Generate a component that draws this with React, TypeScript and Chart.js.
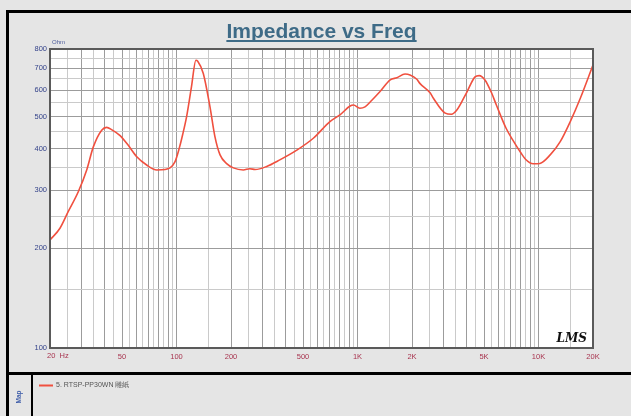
import React, { useEffect, useRef } from 'react';
import { Chart, registerables } from 'chart.js';

Chart.register(...registerables);

// ---- data ----
const freqHz = [
  20, 22.7, 25.2, 28.7, 31.9, 34.7, 38.6, 41.1, 44, 48.8, 54, 60.3, 68.4, 77.8, 86.5, 98,
  104, 108, 113.7, 121, 128, 131, 140.6, 153, 163, 174, 190, 206, 234, 254, 272, 313, 372,
  462, 570, 704, 800, 910, 950, 1030, 1100, 1200, 1332, 1516, 1650, 1830, 1950, 2126, 2210,
  2524, 2626, 3052, 3300, 3538, 4014, 4460, 4700, 5060, 5500, 5850, 6620, 7200, 8000, 8500,
  9340, 10180, 11600, 13180, 14980, 17020, 20000,
];
const impedanceOhm = [
  212, 230, 258, 297, 345, 405, 455, 464, 456, 438, 410, 378, 357, 345, 346, 365,
  405, 440, 500, 616, 740, 735, 675, 536, 435, 383, 360, 350, 345, 348, 346, 353, 370,
  396, 430, 483, 506, 538, 542, 530, 535, 560, 595, 645, 655, 672, 668, 648, 630,
  589, 568, 512, 508, 523, 592, 659, 665, 645, 590, 542, 461, 425, 388, 371,
  360, 361, 383, 420, 483, 568, 716,
];

const yLabelValues = [100, 200, 300, 400, 500, 600, 700, 800];
const yGridValues = [100, 150, 200, 250, 300, 350, 400, 450, 500, 550, 600, 650, 700, 750, 800];
const decades = [10, 100, 1000, 10000];
const gridMultipliers = [1, 1.5, 2, 2.5, 3, 3.5, 4, 4.5, 5, 5.5, 6, 6.5, 7, 7.5, 8, 8.5, 9, 9.5];
const xTickLabels: Record<number, string> = {
  50: '50', 100: '100', 200: '200', 500: '500', 1000: '1K', 2000: '2K', 5000: '5K', 10000: '10K', 20000: '20K',
};
const titleText = 'Impedance vs Freq';
const seriesName = '5. RTSP-PP30WN 雕紙';

const xGridValues: number[] = [];
decades.forEach((d) => gridMultipliers.forEach((m) => {
  const v = Math.round(d * m * 100) / 100;
  if (v >= 20 && v <= 20000) xGridValues.push(v);
}));
if (!xGridValues.includes(20000)) xGridValues.push(20000);

const isMajorX = (v: number) => {
  const d = Math.pow(10, Math.floor(Math.log10(v) + 1e-9));
  return Math.abs(v / d - Math.round(v / d)) < 1e-6;
};

const FONT = '"Liberation Sans", Arial, sans-serif';

const decorPlugin = {
  id: 'decor',
  beforeDraw(chart: any) {
    const { ctx, width, height, chartArea } = chart;
    ctx.save();
    ctx.fillStyle = '#e5e5e5';
    ctx.fillRect(0, 0, width, height);
    // frame lines
    ctx.fillStyle = '#000';
    ctx.fillRect(6, 10, width - 6, 3);
    ctx.fillRect(6, 10, 3, height - 10);
    ctx.fillRect(6, 372, width - 6, 3);
    ctx.fillRect(31, 372, 2, height - 372);
    // plot background
    ctx.fillStyle = '#ffffff';
    ctx.fillRect(chartArea.left, chartArea.top, chartArea.right - chartArea.left, chartArea.bottom - chartArea.top);
    ctx.restore();
  },
  afterDraw(chart: any) {
    const { ctx, chartArea } = chart;
    const { left, top, right, bottom } = chartArea;
    ctx.save();
    // plot border
    ctx.strokeStyle = '#5a5a5a';
    ctx.lineWidth = 2;
    ctx.strokeRect(left, top, right - left, bottom - top);

    // title with underline
    const cx = (left + right) / 2;
    ctx.font = `bold 21px ${FONT}`;
    ctx.fillStyle = '#3e6b87';
    ctx.textAlign = 'center';
    ctx.textBaseline = 'alphabetic';
    ctx.fillText(titleText, cx, 38);
    const w = ctx.measureText(titleText).width;
    ctx.fillRect(cx - w / 2, 40, w, 2);

    // unit label
    ctx.font = `6px ${FONT}`;
    ctx.fillStyle = '#4a5a9a';
    ctx.textAlign = 'left';
    ctx.textBaseline = 'middle';
    ctx.fillText('Ohm', left + 2, 42);

    // first x label
    ctx.font = `7.5px ${FONT}`;
    ctx.fillStyle = '#a8344f';
    ctx.textAlign = 'left';
    ctx.textBaseline = 'middle';
    ctx.fillText('20  Hz', left - 3, 355.5);

    // LMS mark
    ctx.font = `italic bold 12px "DejaVu Serif", serif`;
    ctx.fillStyle = '#111';
    ctx.textAlign = 'right';
    ctx.textBaseline = 'alphabetic';
    ctx.fillText('LMS', right - 6, bottom - 6);

    // legend
    ctx.strokeStyle = '#f0503f';
    ctx.lineWidth = 2;
    ctx.beginPath();
    ctx.moveTo(39, 385.5);
    ctx.lineTo(53, 385.5);
    ctx.stroke();
    ctx.font = `7px ${FONT}`;
    ctx.fillStyle = '#555';
    ctx.textAlign = 'left';
    ctx.textBaseline = 'middle';
    ctx.fillText(seriesName, 56, 385.5);

    // side label
    ctx.translate(19, 397);
    ctx.rotate(-Math.PI / 2);
    ctx.font = `bold 6.5px ${FONT}`;
    ctx.fillStyle = '#3b5aa8';
    ctx.textAlign = 'center';
    ctx.textBaseline = 'middle';
    ctx.fillText('Map', 0, 0);
    ctx.restore();
  },
};

export default function App() {
  const ref = useRef<HTMLCanvasElement | null>(null);
  useEffect(() => {
    if (!ref.current) return;
    const chart = new Chart(ref.current, {
      type: 'line',
      data: {
        datasets: [
          {
            label: seriesName,
            data: freqHz.map((f, i) => ({ x: f, y: impedanceOhm[i] })),
            borderColor: '#f0503f',
            borderWidth: 1.6,
            pointRadius: 0,
            fill: false,
            cubicInterpolationMode: 'monotone',
          },
        ],
      },
      options: {
        animation: false,
        responsive: false,
        devicePixelRatio: 1,
        layout: { padding: { top: 49, right: 38, left: 0, bottom: 0 } },
        plugins: { legend: { display: false }, title: { display: false }, tooltip: { enabled: false } },
        scales: {
          x: {
            type: 'logarithmic',
            min: 20,
            max: 20000,
            afterBuildTicks: (scale: any) => {
              scale.ticks = xGridValues.map((v) => ({ value: v }));
            },
            afterFit: (scale: any) => {
              scale.height = 68;
            },
            ticks: {
              autoSkip: false,
              maxRotation: 0,
              padding: 4,
              color: '#a8344f',
              font: { family: FONT, size: 7.5 },
              callback: (v: any) => xTickLabels[Number(v)] ?? '',
            },
            grid: {
              drawTicks: false,
              color: (c: any) => (isMajorX(c.tick.value) ? '#9c9c9c' : '#cacaca'),
              lineWidth: 1,
            },
            border: { display: false },
          },
          y: {
            type: 'logarithmic',
            min: 100,
            max: 800,
            afterBuildTicks: (scale: any) => {
              scale.ticks = yGridValues.map((v) => ({ value: v }));
            },
            afterFit: (scale: any) => {
              scale.width = 50;
            },
            ticks: {
              autoSkip: false,
              padding: 3,
              color: '#34438a',
              font: { family: FONT, size: 7.5 },
              callback: (v: any) => (yLabelValues.includes(Number(v)) ? String(v) : ''),
            },
            grid: {
              drawTicks: false,
              color: (c: any) => (c.tick.value % 100 === 0 ? '#9c9c9c' : '#cacaca'),
              lineWidth: 1,
            },
            border: { display: false },
          },
        },
      },
      plugins: [decorPlugin],
    } as any);
    return () => chart.destroy();
  }, []);
  return (
    <div style={{ position: 'absolute', left: 0, top: 0, width: 631, height: 416 }}>
      <canvas ref={ref} width={631} height={416} style={{ width: 631, height: 416, display: 'block' }} />
    </div>
  );
}
